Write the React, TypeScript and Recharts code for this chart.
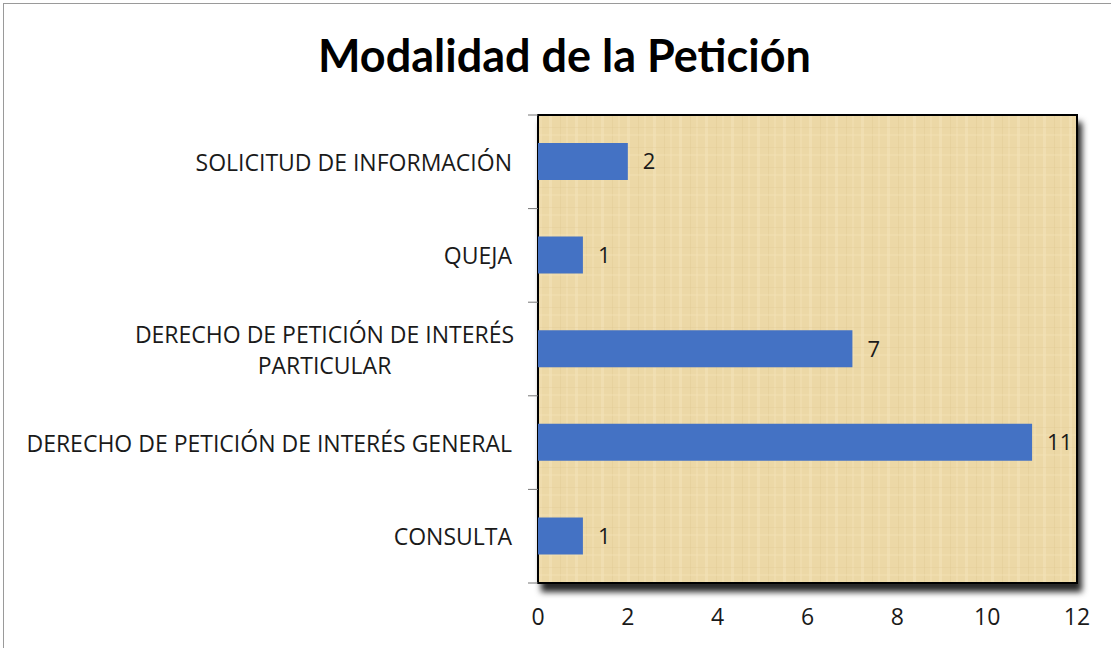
import React from "react"
import { BarChart, Bar, XAxis, YAxis, CartesianGrid, LabelList, ReferenceArea } from "recharts"

const W = 1111
const H = 648
const M = { top: 115, right: 34, bottom: 20, left: 0 }
const Y_WIDTH = 538
const X_HEIGHT = 45

// categories top to bottom, "|" marks a line break in the axis label
const categories = [
  "SOLICITUD DE INFORMACIÓN",
  "QUEJA",
  "DERECHO DE PETICIÓN DE INTERÉS|PARTICULAR",
  "DERECHO DE PETICIÓN DE INTERÉS GENERAL",
  "CONSULTA",
]
const counts = [2, 1, 7, 11, 1]
const xTicks = [0, 2, 4, 6, 8, 10, 12]

const data = categories.map((name, i) => ({ name, value: counts[i] }))

const labelFont = "'Open Sans', 'Noto Sans', sans-serif"
const titleFont = "Lato, 'Open Sans', sans-serif"
const plotH = H - M.top - M.bottom - X_HEIGHT
const band = plotH / categories.length

const CategoryTick = ({ x, y, payload, index }: any) => {
  const lines = String(payload.value).split("|")
  const tx = x - 18
  const ticks = (
    <>
      <line x1={x - 2} x2={x + 8} y1={y - band / 2} y2={y - band / 2} stroke="#777" />
      {index === categories.length - 1 && (
        <line x1={x - 2} x2={x + 8} y1={y + band / 2} y2={y + band / 2} stroke="#777" />
      )}
    </>
  )
  if (lines.length === 1) {
    return (
      <g>
        {ticks}
        <text x={tx} y={y} textAnchor="end" dominantBaseline="central" fontSize={23} fill="#1a1a1a" fontFamily={labelFont}>
          {lines[0]}
        </text>
      </g>
    )
  }
  const longest = Math.max(...lines.map((l) => l.length))
  const cx = tx + 3 - longest * 12.7 / 2
  return (
    <g>
      {ticks}
      {lines.map((l, i) => (
        <text
          key={i}
          x={cx}
          y={y + (i - (lines.length - 1) / 2) * 31}
          textAnchor="middle"
          dominantBaseline="central"
          fontSize={23}
          fill="#1a1a1a"
          fontFamily={labelFont}
        >
          {l}
        </text>
      ))}
    </g>
  )
}

const NumberTick = ({ x, y, payload }: any) => (
  <text x={x} y={y + 25} textAnchor="middle" dominantBaseline="central" fontSize={23} fill="#1a1a1a" fontFamily={labelFont}>
    {payload.value}
  </text>
)

export default function App() {
  return (
    <div style={{ position: "absolute", left: 0, top: 0, width: W, height: H, background: "#fff" }}>
      <svg width={0} height={0} style={{ position: "absolute" }}>
        <defs>
          <filter id="plotShadow" x="-5%" y="-5%" width="115%" height="115%">
            <feDropShadow dx={4} dy={8} stdDeviation={3} floodColor="#000" floodOpacity={0.85} />
          </filter>
          <pattern id="papyrus" width="26" height="20" patternUnits="userSpaceOnUse">
            <rect width="26" height="20" fill="#ecd8a6" />
            <rect x="3" width="3" height="20" fill="#f3e3bb" opacity={0.5} />
            <rect x="14" width="1" height="20" fill="#dcc48e" opacity={0.35} />
            <rect x="20" width="2" height="20" fill="#f2e1b7" opacity={0.4} />
            <rect y="7" width="26" height="1" fill="#dfc892" opacity={0.3} />
            <rect y="14" width="26" height="2" fill="#f2e2b8" opacity={0.35} />
          </pattern>
        </defs>
      </svg>
      <div
        style={{
          position: "absolute",
          left: 3,
          top: 3,
          right: 0,
          bottom: 0,
          borderTop: "1px solid #9a9a9a",
          borderLeft: "1px solid #9a9a9a",
        }}
      />
      <div
        style={{
          position: "absolute",
          left: 0,
          width: 1129,
          top: 25,
          textAlign: "center",
          fontFamily: titleFont,
          fontWeight: 700,
          fontSize: 45,
          lineHeight: "60px",
          color: "#000",
        }}
      >
        Modalidad de la Petición
      </div>
      <BarChart width={W} height={H} data={data} layout="vertical" margin={M} barSize={37}>
        <ReferenceArea
          x1={0}
          x2={12}
          y1={categories[0]}
          y2={categories[categories.length - 1]}
          fill="url(#papyrus)"
          fillOpacity={1}
          stroke="#000"
          strokeWidth={2}
          style={{ filter: "url(#plotShadow)" }}
          ifOverflow="visible"
        />
        <CartesianGrid horizontal={false} stroke="#7d7a72" strokeWidth={1} />
        <XAxis
          type="number"
          domain={[0, 12]}
          ticks={xTicks}
          height={X_HEIGHT}
          axisLine={false}
          tickLine={false}
          tick={<NumberTick />}
        />
        <YAxis
          type="category"
          dataKey="name"
          width={Y_WIDTH}
          axisLine={false}
          tickLine={false}
          tick={<CategoryTick />}
          interval={0}
        />
        <Bar dataKey="value" fill="#4472c4" isAnimationActive={false}>
          <LabelList dataKey="value" position="right" offset={15} fontSize={22} fill="#1a1a1a" fontFamily={labelFont} />
        </Bar>
      </BarChart>
    </div>
  )
}
